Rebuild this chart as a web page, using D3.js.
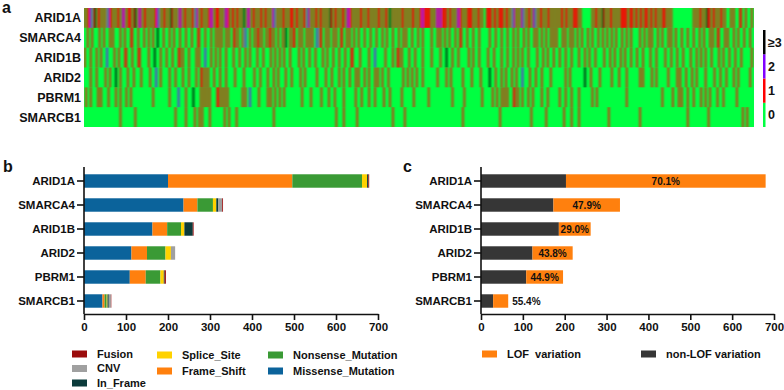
<!DOCTYPE html>
<html>
<head>
<meta charset="utf-8">
<script src="https://cdn.jsdelivr.net/npm/d3@7"></script>
<style>
  body { margin: 0; background: #fff; }
  svg { display: block; font-family: "Liberation Sans", Arial, sans-serif; font-weight: bold; }
</style>
</head>
<body>
<svg id="chart" width="784" height="390"></svg>
<script>
// ── Data ──────────────────────────────────────────────────────────────────
const genes = ["ARID1A", "SMARCA4", "ARID1B", "ARID2", "PBRM1", "SMARCB1"];

// panel a: one character per sample, value = number of variations (3 means ≥3)
const heatRows = [
  "101120130110101021101011012101110130121011010101120101101031010121011010110210110101121011" +
  "101012110110110103012101101011011010120101011010111011010110210101101101010310110101101211" +
  "010101101011010101101011030101010110101011010112111110101212111101101012110101111010110100" +
  "111101101111011010210101201011012010110101101010101101101011110100000001011010310101101010" +
  "111110111011011011101101101011101010000000000000010101101031101101011010001010001100100010",
  "001001000010010001010000100100011000100010010010030001000100100010001000100011000100010010" +
  "101001010011010010200100101101001011010010010300101100101001010100201100101001010011001010" +
  "010010001000100010001001000100010010100010001001000001000101001001000100110001000100010000" +
  "001000100010001000100100010010001010010010010101000101001010010010001001000100100100100100" +
  "010010010000010010010100010010001010010001000100010001001000101001100010100010010001000100",
  "100010001001000200001001000110001000110000010003000100010001000110100010000101000200010010" +
  "010001000010001000100100001000100001001001001000100000100100010001000010010001000100010001" +
  "100001000001000200000010000100110100001000100001000001000001000300010001000000100100010000" +
  "010001000010001000100100100010000010001001000100010001000100001000100100010000010001001000" +
  "100100010001000100001000100000100010001000100001000100100100010000100100010001000100000010",
  "000010001000001001000300100001000100001000001000200100000100010000100010000100110101000100" +
  "010001000001000001000000100010000100010010000100010000010010000000100000100010000100100010" +
  "001010001001000101001000100000000010010010010001000000000100000100100000001000001000001000" +
  "003000100010010001001000200001000100010000010000000001001000000000300010000010000000100001" +
  "000010000000010100000100100000001000001010001000100100000100000100010001000010010000000100",
  "010010000101000010000100100010010000000000000010000000000100000200001000030000101010100001" +
  "101010100000000010100200000100000101001001001000000000001000001000000100001000100000100000" +
  "001000100001000100000100010000000100000001000000000100000000000000010000000100000000000100" +
  "000010010010101000110100100010010000010001000000010001000100001000000001001000000000000000" +
  "000010000000000000000000000010000001000101000100010000100100100001000100000000100000000000",
  "000000000000000000000000100000000010000000000000000000000000010000001000001001010000100000" +
  "000010010000100000000000000000000000010000000000000000000000000000000000000000010000100000" +
  "000100000000000000000000000100000001000000000000000000000000000000000000001000000000000000" +
  "000000000100000000000000000000100000000010000000000010000100001000000000000000000010000000" +
  "000000000000010000000000000000000000000000000100000000000001000000000000000000000010010000"
];
const heatLevels = ["0", "1", "2", "≥3"];
const heatColors = ["#00ff41", "#ff0000", "#8000ff", "#000000"];

// panel b: variation types per gene
const mutTypes   = ["Missense_Mutation", "Frame_Shift", "Nonsense_Mutation", "Splice_Site", "In_Frame", "CNV", "Fusion"];
const missense   = [200, 237, 163, 113, 109, 44];
const frameShift = [296,  33,  35,  37,  38,  5];
const nonsense   = [166,  37,  33,  44,  35,  5];
const spliceSite = [ 12,   8,   8,  13,   8,  2];
const inFrame    = [  3,   5,  20,   0,   2,  3];
const cnv        = [  0,   9,   0,  10,   0,  5];
const fusion     = [  2,   2,   2,   0,   3,  1];
const mutColors  = ["#0b639b", "#ff800e", "#3a9a35", "#ffd200", "#0b3b3b", "#a0a0a0", "#9b0c0c"];
const mutLegendCols = [["Fusion", "CNV", "In_Frame"], ["Splice_Site", "Frame_Shift"], ["Nonsense_Mutation", "Missense_Mutation"]];

// panel c: LOF vs non-LOF
const nonLof = [203, 173, 186, 123, 108, 29];
const lof    = [477, 159,  76,  96,  88, 36];
const lofColors = { nonLof: "#363636", lof: "#ff800e" };

const xTicks = [0, 100, 200, 300, 400, 500, 600, 700];

// ── Setup ─────────────────────────────────────────────────────────────────
const svg = d3.select("#chart");

// horizontal smear so narrow sample columns blend like the original raster
svg.append("defs").append("filter").attr("id", "hblur")
  .attr("filterUnits", "userSpaceOnUse")
  .attr("x", 84).attr("y", 8).attr("width", 670).attr("height", 119)
  .append("feGaussianBlur").attr("stdDeviation", "0.8 0");

function panelLetter(x, y, t) {
  svg.append("text").attr("x", x).attr("y", y)
    .attr("font-size", "16px").attr("fill", "#111").text(t);
}

// ── Panel a: heatmap ──────────────────────────────────────────────────────
(function drawHeat() {
  const nSamples = d3.max(heatRows, r => r.length);
  const hx = d3.scaleBand().domain(d3.range(nSamples)).range([84, 754]);
  const hy = d3.scaleBand().domain(genes).range([8, 127]);

  const g = svg.append("g");
  g.append("rect").attr("x", 84).attr("y", 8).attr("width", 670).attr("height", 119)
    .attr("fill", heatColors[0]);

  const cg = g.append("g").attr("filter", "url(#hblur)");
  genes.forEach((gene, gi) => {
    const cells = [];
    const row = heatRows[gi];
    for (let i = 0; i < row.length; i++) {
      const v = +row[i];
      if (v > 0) cells.push({ i, v });
    }
    cg.selectAll(`.hc${gi}`).data(cells).join("rect").attr("class", `hc${gi}`)
      .attr("x", d => hx(d.i)).attr("y", hy(gene))
      .attr("width", hx.bandwidth()).attr("height", hy.bandwidth())
      .attr("fill", d => heatColors[Math.min(d.v, 3)]);
  });

  g.selectAll(".hl").data(genes).join("text").attr("class", "hl")
    .attr("x", 81).attr("y", d => hy(d) + hy.bandwidth() / 2)
    .attr("dy", "0.36em").attr("text-anchor", "end")
    .attr("font-size", "12.5px").attr("fill", "#111").text(d => d);

  // colour key
  const ky = d3.scaleBand().domain(heatLevels.slice().reverse()).range([30, 127]);
  const k = svg.append("g");
  k.selectAll("rect").data(heatLevels).join("rect")
    .attr("x", 763).attr("y", d => ky(d)).attr("width", 2.5).attr("height", ky.bandwidth())
    .attr("fill", (d, i) => heatColors[i]);
  k.selectAll("text").data(heatLevels).join("text")
    .attr("x", 768).attr("y", d => ky(d) + ky.bandwidth() / 2)
    .attr("dy", "0.36em").attr("font-size", "12.5px").attr("fill", "#111")
    .text(d => d);

  panelLetter(2, 13, "a");
})();

// ── Shared bar-panel helpers ──────────────────────────────────────────────
const barY = d3.scaleBand().domain(genes).range([169, 313]).paddingInner(0.44).paddingOuter(0.22);

function drawAxes(g, x) {
  g.append("g").attr("transform", "translate(0,314)")
    .call(d3.axisBottom(x).tickValues(xTicks).tickSize(6).tickPadding(3).tickSizeOuter(0))
    .call(ax => ax.select(".domain").attr("stroke", "#111").attr("stroke-width", 1.6))
    .call(ax => ax.selectAll("line").attr("stroke", "#111").attr("stroke-width", 1.6))
    .call(ax => ax.selectAll("text").attr("fill", "#111").attr("font-size", "11.5px")
      .attr("font-family", "Liberation Sans, Arial, sans-serif").attr("font-weight", "bold"));
  g.append("g").attr("transform", `translate(${x(0)},0)`)
    .call(d3.axisLeft(barY).tickSize(7).tickPadding(2).tickSizeOuter(0))
    .call(ax => ax.select(".domain").attr("d", `M0,167V314`).attr("stroke", "#111").attr("stroke-width", 1.6))
    .call(ax => ax.selectAll("line").attr("stroke", "#111").attr("stroke-width", 1.6))
    .call(ax => ax.selectAll("text").attr("fill", "#111").attr("font-size", "11.5px")
      .attr("font-family", "Liberation Sans, Arial, sans-serif").attr("font-weight", "bold"));
}

// ── Panel b: variation types ─────────────────────────────────────────────
(function drawTypes() {
  const x = d3.scaleLinear().domain([0, 700]).range([84, 378]);
  const cols = [missense, frameShift, nonsense, spliceSite, inFrame, cnv, fusion];
  const table = genes.map((gene, i) => {
    const o = { gene };
    mutTypes.forEach((t, j) => o[t] = cols[j][i]);
    return o;
  });
  const stacked = d3.stack().keys(mutTypes)(table);
  const color = d3.scaleOrdinal().domain(mutTypes).range(mutColors);

  const g = svg.append("g");
  stacked.forEach(layer => {
    g.selectAll(null).data(layer).join("rect")
      .attr("x", d => x(d[0])).attr("y", d => barY(d.data.gene))
      .attr("width", d => Math.max(0, x(d[1]) - x(d[0]))).attr("height", barY.bandwidth())
      .attr("fill", color(layer.key));
  });
  drawAxes(g, x);

  // legend
  const colX = [72, 157, 268];
  const rowY = [[354, 368.5, 383], [355, 371], [355, 371]];
  mutLegendCols.forEach((col, ci) => {
    col.forEach((name, ri) => {
      g.append("rect").attr("x", colX[ci]).attr("y", rowY[ci][ri] - 3.5)
        .attr("width", 15).attr("height", 7).attr("fill", color(name));
      g.append("text").attr("x", colX[ci] + 25).attr("y", rowY[ci][ri])
        .attr("dy", "0.36em").attr("font-size", "11px").attr("fill", "#111").text(name);
    });
  });

  panelLetter(3, 172, "b");
})();

// ── Panel c: LOF vs non-LOF ──────────────────────────────────────────────
(function drawLof() {
  const x = d3.scaleLinear().domain([0, 700]).range([481, 774]);
  const table = genes.map((gene, i) => ({ gene, nonLof: nonLof[i], lof: lof[i] }));
  const stacked = d3.stack().keys(["nonLof", "lof"])(table);
  const fmt = d3.format(".1%");
  const inside = d => x(d.nonLof + d.lof) - x(d.nonLof) > 20;

  const g = svg.append("g");
  stacked.forEach(layer => {
    g.selectAll(null).data(layer).join("rect")
      .attr("x", d => x(d[0])).attr("y", d => barY(d.data.gene))
      .attr("width", d => x(d[1]) - x(d[0])).attr("height", barY.bandwidth())
      .attr("fill", lofColors[layer.key]);
  });

  g.selectAll(".pct").data(table).join("text").attr("class", "pct")
    .attr("x", d => inside(d) ? (x(d.nonLof) + x(d.nonLof + d.lof)) / 2 : x(d.nonLof + d.lof) + 4)
    .attr("text-anchor", d => inside(d) ? "middle" : "start")
    .attr("y", d => barY(d.gene) + barY.bandwidth() / 2).attr("dy", "0.36em")
    .attr("font-size", "10px").attr("fill", "#111")
    .text(d => fmt(d.lof / (d.lof + d.nonLof)));

  drawAxes(g, x);

  // legend
  const items = [["LOF  variation", lofColors.lof, 482], ["non-LOF variation", lofColors.nonLof, 641]];
  items.forEach(([label, c, lx]) => {
    g.append("rect").attr("x", lx).attr("y", 350.5).attr("width", 15).attr("height", 7).attr("fill", c);
    g.append("text").attr("x", lx + 25).attr("y", 354).attr("dy", "0.36em")
      .attr("font-size", "11px").attr("fill", "#111").attr("xml:space", "preserve").text(label);
  });

  panelLetter(403, 172, "c");
})();
</script>
</body>
</html>
